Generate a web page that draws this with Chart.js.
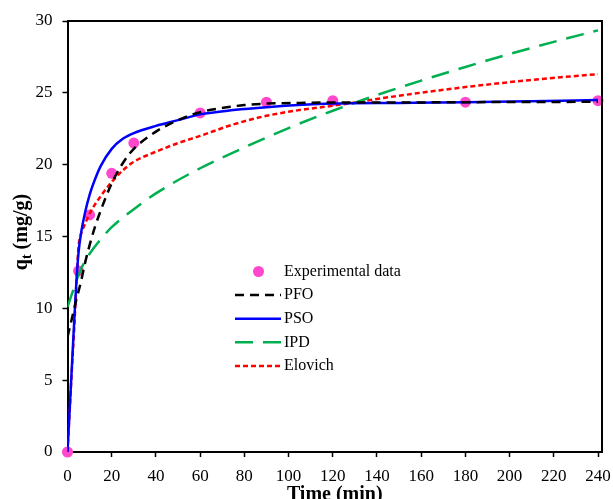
<!DOCTYPE html>
<html lang="en">
  <head>
    <meta charset="UTF-8" />
    <title>Adsorption kinetics</title>
    <script src="https://cdn.jsdelivr.net/npm/chart.js"></script>
    <style>
      html, body { margin: 0; padding: 0; background: #fff; }
      #wrap { width: 613px; height: 499px; }
    </style>
  </head>
  <body>
    <div id="wrap"><canvas id="kinetics" width="613" height="499"></canvas></div>

    <script>
      // tick labels
      const xTicks = [0, 20, 40, 60, 80, 100, 120, 140, 160, 180, 200, 220, 240];
      const yTicks = [0, 5, 10, 15, 20, 25, 30];

      // experimental data
      const expTime = [0, 5, 10, 20, 30, 60, 90, 120, 180, 240];
      const expQ = [0, 12.6, 16.5, 19.4, 21.5, 23.6, 24.35, 24.45, 24.35, 24.45];

      // model curves
      const pfoTime = [0, 2, 4, 6, 8, 10, 12.5, 15, 20, 25, 30, 40, 50, 60, 70, 80, 90, 105, 120, 150, 180, 210, 240];
      const pfoQ = [8.0, 9.3, 10.6, 11.8, 13.2, 14.4, 15.7, 16.8, 18.7, 20.1, 21.1, 22.3, 23.1, 23.65, 23.95, 24.15, 24.25, 24.3, 24.33, 24.33, 24.35, 24.36, 24.38];

      const psoTime = [0, 1, 2, 3, 4, 5, 6, 8, 10, 12.5, 15, 20, 25, 30, 40, 50, 60, 75, 90, 120, 150, 180, 210, 240];
      const psoQ = [0, 3.0, 6.0, 9.0, 11.8, 13.9, 15.1, 16.7, 17.9, 19.0, 19.9, 21.1, 21.8, 22.2, 22.7, 23.1, 23.5, 23.8, 24.0, 24.25, 24.3, 24.35, 24.42, 24.5];

      const ipdTime = [0, 2, 4, 6, 8, 10, 15, 20, 30, 40, 60, 80, 100, 120, 140, 160, 180, 200, 220, 240];
      const ipdQ = [10.1, 11.0, 11.9, 12.7, 13.3, 13.8, 14.8, 15.65, 16.9, 18.0, 19.75, 21.2, 22.55, 23.75, 24.85, 25.85, 26.8, 27.7, 28.55, 29.35];

      const eloTime = [0, 1, 2, 3, 4, 5, 6, 8, 10, 15, 20, 25, 30, 40, 50, 60, 75, 90, 105, 120, 150, 180, 210, 240];
      const eloQ = [0, 2.9, 5.8, 8.5, 11.6, 14.3, 15.1, 15.9, 16.6, 17.8, 18.8, 19.6, 20.2, 20.9, 21.5, 22.0, 22.8, 23.4, 23.8, 24.1, 24.8, 25.4, 25.9, 26.3];

      const FONT = "'Liberation Serif', 'Times New Roman', serif";
      const PINK = "rgb(255, 72, 204)";

      function toPoints(xs, ys) {
        return xs.map((x, i) => ({ x: x, y: ys[i] }));
      }

      function curve(label, xs, ys, color, dash) {
        return {
          label: label,
          data: toPoints(xs, ys),
          showLine: true,
          borderColor: color,
          borderWidth: 2.5,
          borderDash: dash,
          pointRadius: 0,
          cubicInterpolationMode: "monotone",
          fill: false,
        };
      }

      // legend entries, drawn by the plugin below
      const legendItems = [
        { text: "Experimental data", kind: "dot", color: PINK },
        { text: "PFO", kind: "line", color: "#000000", dash: [9, 6] },
        { text: "PSO", kind: "line", color: "#0000ff", dash: [] },
        { text: "IPD", kind: "line", color: "#00b050", dash: [18, 10] },
        { text: "Elovich", kind: "line", color: "#ff0000", dash: [5, 3] },
      ];

      const decorPlugin = {
        id: "decor",
        afterDraw(chart) {
          const ctx = chart.ctx;
          const a = chart.chartArea;
          ctx.save();

          // frame on top and right
          ctx.strokeStyle = "#000";
          ctx.lineWidth = 2;
          ctx.beginPath();
          ctx.moveTo(a.left, a.top);
          ctx.lineTo(a.right, a.top);
          ctx.lineTo(a.right, a.bottom);
          ctx.stroke();

          // legend
          ctx.font = "16px " + FONT;
          ctx.textBaseline = "middle";
          ctx.fillStyle = "#000";
          let y = 271.5;
          legendItems.forEach((item) => {
            if (item.kind === "dot") {
              ctx.fillStyle = item.color;
              ctx.beginPath();
              ctx.arc(258.5, y, 5.5, 0, Math.PI * 2);
              ctx.fill();
            } else {
              ctx.strokeStyle = item.color;
              ctx.lineWidth = 2.5;
              ctx.setLineDash(item.dash);
              ctx.beginPath();
              ctx.moveTo(235, y);
              ctx.lineTo(281, y);
              ctx.stroke();
              ctx.setLineDash([]);
            }
            ctx.fillStyle = "#000";
            ctx.textAlign = "left";
            ctx.fillText(item.text, 284, y);
            y += 23.6;
          });

          // x axis title
          ctx.font = "bold 20px " + FONT;
          ctx.textAlign = "center";
          ctx.textBaseline = "alphabetic";
          ctx.fillText("Time (min)", (a.left + a.right) / 2, 500);

          // y axis title with subscript t
          ctx.translate(27, 232);
          ctx.rotate(-Math.PI / 2);
          ctx.font = "bold 20px " + FONT;
          const qW = ctx.measureText("q").width;
          ctx.font = "bold 14px " + FONT;
          const tW = ctx.measureText("t").width;
          ctx.font = "bold 20px " + FONT;
          const restW = ctx.measureText(" (mg/g)").width;
          let x0 = -(qW + tW + restW) / 2;
          ctx.textAlign = "left";
          ctx.fillText("q", x0, 0);
          ctx.font = "bold 14px " + FONT;
          ctx.fillText("t", x0 + qW, 4);
          ctx.font = "bold 20px " + FONT;
          ctx.fillText(" (mg/g)", x0 + qW + tW, 0);

          ctx.restore();
        },
      };

      const ctx = document.getElementById("kinetics").getContext("2d");
      new Chart(ctx, {
        type: "scatter",
        data: {
          datasets: [
            curve("PFO", pfoTime, pfoQ, "#000000", [9, 6]),
            curve("PSO", psoTime, psoQ, "#0000ff", []),
            curve("IPD", ipdTime, ipdQ, "#00b050", [18, 10]),
            curve("Elovich", eloTime, eloQ, "#ff0000", [5, 3]),
            {
              label: "Experimental data",
              data: toPoints(expTime, expQ),
              pointRadius: 5.5,
              pointBackgroundColor: PINK,
              pointBorderWidth: 0,
              showLine: false,
              clip: false,
            },
          ],
        },
        options: {
          responsive: false,
          animation: false,
          devicePixelRatio: 1,
          layout: { padding: { top: 21, right: 11, left: 0, bottom: 0 } },
          plugins: {
            legend: { display: false },
            tooltip: { enabled: false },
          },
          scales: {
            x: {
              type: "linear",
              min: 0,
              max: 241.8,
              afterBuildTicks: (scale) => {
                scale.ticks = xTicks.map((v) => ({ value: v }));
              },
              afterFit: (scale) => {
                scale.height = 47;
                scale.paddingLeft = 0;
                scale.paddingRight = 0;
              },
              grid: {
                drawOnChartArea: false,
                drawTicks: true,
                tickLength: 5,
                tickColor: "#000",
                tickWidth: 1.5,
              },
              border: { display: true, color: "#000", width: 2 },
              ticks: {
                color: "#000",
                font: { family: FONT, size: 17 },
                padding: 9,
                maxRotation: 0,
                autoSkip: false,
              },
            },
            y: {
              min: 0,
              max: 30,
              afterBuildTicks: (scale) => {
                scale.ticks = yTicks.map((v) => ({ value: v }));
              },
              afterFit: (scale) => {
                scale.width = 67.5;
                scale.paddingTop = 0;
                scale.paddingBottom = 0;
              },
              grid: {
                drawOnChartArea: false,
                drawTicks: true,
                tickLength: 5,
                tickColor: "#000",
                tickWidth: 1.5,
              },
              border: { display: true, color: "#000", width: 2 },
              ticks: {
                color: "#000",
                font: { family: FONT, size: 17 },
                padding: 10,
                autoSkip: false,
              },
            },
          },
        },
        plugins: [decorPlugin],
      });
    </script>
  </body>
</html>
